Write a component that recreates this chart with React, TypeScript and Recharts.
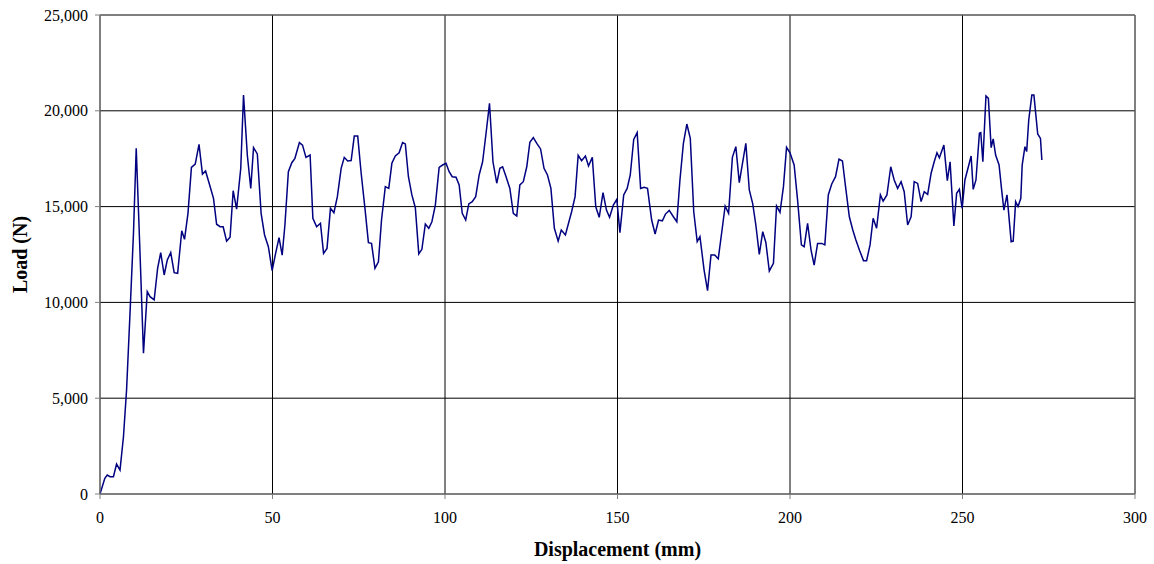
import { LineChart, Line, XAxis, YAxis, CartesianGrid, ReferenceLine } from "recharts";

// displacement (mm) and load (N)
const displacementMm = [
  0, 1.4, 2.1, 2.9, 3.9, 4.8, 5.8, 6.8, 7.7, 8.7, 9.7, 10.5, 11.6, 12.6, 13.7, 14.5, 15.7, 16.7, 17.6, 18.6,
  19.5, 20.5, 21.5, 22.5, 23.7, 24.5, 25.5, 26.5, 27.6, 28.7, 29.7, 30.6, 31.7, 32.9, 33.8, 34.8, 35.7, 36.7, 37.7, 38.6,
  39.6, 40.8, 41.6, 42.7, 43.7, 44.5, 45.6, 46.7, 47.7, 48.8, 49.9, 50.9, 51.9, 52.8, 53.6, 54.6, 55.6, 56.5, 57.8, 58.7,
  59.7, 60.9, 61.7, 62.8, 63.9, 64.8, 65.8, 66.8, 67.8, 68.8, 69.9, 70.8, 71.8, 72.8, 73.7, 74.7, 75.7, 76.8, 77.8, 78.7,
  79.7, 80.7, 81.6, 82.7, 83.7, 84.6, 85.6, 86.7, 87.7, 88.5, 89.4, 90.4, 91.4, 92.4, 93.3, 94.3, 95.3, 96.2, 97.2, 98.3,
  99.3, 100.3, 101.2, 102.1, 103.2, 104.1, 105.0, 106.0, 106.9, 107.9, 108.9, 109.9, 110.9, 111.9, 112.9, 113.9, 115.0, 115.9, 116.7, 117.7,
  118.8, 119.8, 120.8, 121.7, 122.7, 123.7, 124.6, 125.6, 126.6, 127.7, 128.7, 129.7, 130.7, 131.7, 132.8, 133.7, 134.9, 135.8, 136.7, 137.7,
  138.6, 139.6, 140.7, 141.6, 142.7, 143.7, 144.7, 145.8, 146.8, 147.7, 148.8, 149.8, 150.7, 151.8, 152.8, 153.7, 154.7, 155.7, 156.7, 157.7,
  158.7, 159.9, 160.9, 161.9, 163.0, 163.9, 165.0, 166.2, 167.2, 168.1, 169.1, 170.1, 171.1, 172.1, 173.1, 173.9, 175.1, 176.1, 177.1, 178.2,
  179.2, 180.3, 181.2, 182.2, 183.3, 184.3, 185.3, 186.3, 187.2, 188.2, 189.2, 190.1, 191.1, 192.1, 193.0, 194.0, 195.2, 196.1, 197.1, 198.1,
  199.0, 200.0, 201.2, 202.2, 203.3, 204.1, 205.1, 206.1, 207.0, 208.0, 209.2, 210.1, 211.1, 212.1, 213.2, 214.2, 215.2, 216.1, 217.2, 218.2,
  219.1, 220.2, 221.3, 222.2, 223.2, 224.1, 225.1, 226.2, 227.0, 228.1, 229.2, 230.2, 231.2, 232.2, 233.1, 234.1, 235.1, 236.0, 237.0, 238.0,
  238.9, 239.9, 240.9, 241.8, 242.6, 243.3, 244.6, 245.6, 246.4, 247.5, 248.3, 249.1, 249.9, 250.7, 251.7, 252.5, 253.1, 253.9, 254.9, 255.3,
  255.9, 256.8, 257.5, 258.3, 258.9, 259.6, 260.6, 261.3, 262.0, 262.9, 264.1, 264.7, 265.4, 266.1, 266.9, 267.3, 268.1, 268.6, 269.2, 270.1,
  270.7, 271.8, 272.6, 273.0,
];

const loadN = [
  0, 820, 990, 905, 905, 1565, 1250, 2990, 5430, 9440, 13600, 18040, 12570, 7350, 10560, 10300, 10130, 11780, 12600, 11430,
  12210, 12600, 11550, 11520, 13740, 13290, 14650, 17050, 17220, 18250, 16700, 16860, 16180, 15430, 14080, 13950, 13950, 13200, 13400, 15830,
  14870, 17000, 20820, 17690, 15950, 18080, 17750, 14650, 13520, 12910, 11660, 12560, 13380, 12470, 14040, 16820, 17290, 17520, 18340, 18210,
  17570, 17690, 14390, 13950, 14130, 12560, 12820, 14910, 14680, 15520, 17000, 17570, 17380, 17400, 18680, 18680, 16740, 14910, 13120, 13080,
  11780, 12120, 14300, 16040, 15950, 17260, 17640, 17810, 18340, 18270, 16560, 15610, 14940, 12530, 12770, 14090, 13870, 14210, 15080, 17050,
  17170, 17260, 16820, 16560, 16530, 16130, 14650, 14300, 15140, 15260, 15520, 16650, 17340, 18830, 20390, 17340, 16220, 17000, 17080, 16560,
  15950, 14650, 14510, 16130, 16300, 17080, 18360, 18600, 18300, 18010, 17000, 16650, 15950, 13870, 13200, 13780, 13520, 14130, 14730, 15520,
  17680, 17400, 17640, 17120, 17570, 14990, 14440, 15730, 14820, 14440, 15080, 15380, 13640, 15610, 15950, 16650, 18510, 18860, 15950, 16010,
  15950, 14300, 13570, 14300, 14260, 14610, 14800, 14470, 14210, 16390, 18300, 19310, 18560, 14730, 13170, 13430, 11690, 10610, 12470, 12470,
  12270, 13780, 15030, 14650, 17570, 18130, 16250, 17340, 18300, 15870, 15140, 14040, 12510, 13690, 13130, 11640, 12040, 15030, 14700, 16040,
  18090, 17810, 17170, 15340, 13000, 12910, 14130, 12730, 11950, 13080, 13080, 13000, 15610, 16180, 16560, 17480, 17380, 16040, 14470, 13780,
  13260, 12700, 12180, 12180, 13000, 14390, 13870, 15610, 15290, 15610, 17080, 16390, 15950, 16300, 15780, 14040, 14470, 16300, 16210, 15260,
  15780, 15640, 16740, 17340, 17810, 17550, 18210, 16350, 17340, 13990, 15690, 15900, 14910, 16390, 17080, 17640, 15900, 16390, 18830, 18860,
  17340, 20770, 20650, 18080, 18530, 17690, 17170, 15950, 14820, 15610, 13170, 13200, 15260, 15000, 15430, 17170, 18130, 17870, 19520, 20820,
  20820, 18790, 18560, 17430,
];

const xTicks = [0, 50, 100, 150, 200, 250, 300];
const yTicks = [0, 5000, 10000, 15000, 20000, 25000];

const data = displacementMm.map((d, i) => ({ d, load: loadN[i] }));

const font = "'Liberation Serif', 'Times New Roman', serif";

export default function App() {
  return (
    <div style={{ position: "absolute", left: 0, top: 0, background: "#fff", fontFamily: font }}>
      <LineChart width={1154} height={564} data={data} margin={{ top: 15, right: 19, bottom: 0, left: 0 }}>
        <CartesianGrid stroke="#000" strokeWidth={1} vertical horizontal />
        <XAxis
          dataKey="d"
          type="number"
          domain={[0, 300]}
          ticks={xTicks}
          height={70}
          stroke="#808080"
          tickSize={5}
          tickMargin={13}
          tick={{ fill: "#000", fontSize: 16, fontFamily: font }}
          label={{
            value: "Displacement (mm)",
            position: "insideBottom",
            offset: 8,
            style: { fill: "#000", fontSize: 20, fontWeight: "bold", fontFamily: font },
          }}
        />
        <YAxis
          type="number"
          domain={[0, 25000]}
          ticks={yTicks}
          width={100}
          stroke="#808080"
          tickSize={5}
          tickMargin={7}
          tickFormatter={(v: number) => v.toLocaleString("en-US")}
          tick={{ fill: "#000", fontSize: 16, fontFamily: font }}
          label={{
            value: "Load (N)",
            angle: -90,
            position: "insideLeft",
            offset: 20,
            style: { fill: "#000", fontSize: 20, fontWeight: "bold", fontFamily: font, textAnchor: "middle" },
          }}
        />
        <ReferenceLine y={25000} stroke="#808080" />
        <ReferenceLine x={300} stroke="#808080" />
        <Line
          type="linear"
          dataKey="load"
          stroke="#000080"
          strokeWidth={1.5}
          dot={false}
          isAnimationActive={false}
        />
      </LineChart>
    </div>
  );
}
